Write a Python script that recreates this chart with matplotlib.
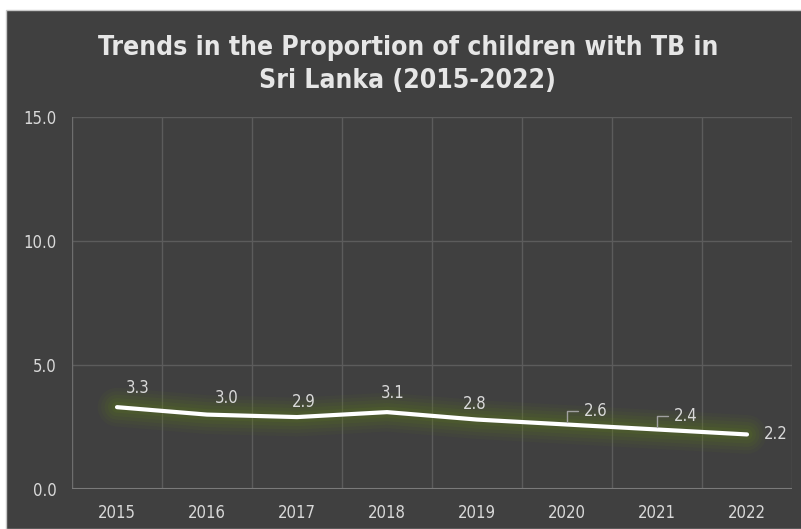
import matplotlib.pyplot as plt
from matplotlib.patches import Rectangle

# data
years = ['2015', '2016', '2017', '2018', '2019', '2020', '2021', '2022']
proportion = [3.3, 3.0, 2.9, 3.1, 2.8, 2.6, 2.4, 2.2]
yticks = [0.0, 5.0, 10.0, 15.0]

bg = '#404040'
txt = '#d9d9d9'
grid = '#5c5c5c'

fig = plt.figure(figsize=(8.01, 5.29), dpi=100, facecolor='white')
# dark chart panel with a thin white margin on the top and left
fig.patches.append(Rectangle((6 / 801, 0), 1, 519 / 529, transform=fig.transFigure,
                             facecolor=bg, edgecolor='#c8c8c8', linewidth=1, zorder=-10))

ax = fig.add_axes([72 / 801, 40 / 529, 720 / 801, 372 / 529])
ax.set_facecolor(bg)
ax.patch.set_alpha(0)

x = list(range(len(years)))
ax.set_xlim(-0.5, len(years) - 0.5)
ax.set_ylim(0, 15)

# vertical grid lines between categories, horizontal at major ticks
for b in range(1, len(years) + 1):
    ax.axvline(b - 0.5, color=grid, lw=1, zorder=1)
for t in yticks[1:]:
    ax.axhline(t, color=grid, lw=1, zorder=1)
ax.axvline(-0.5, color='#6e6e6e', lw=1, zorder=1)

for s in ax.spines.values():
    s.set_visible(False)
ax.axhline(0, color='#7a7a7a', lw=1.5, zorder=2)

# glow under the line
for lw, a in [(28, 0.07), (23, 0.08), (18, 0.10), (13, 0.12), (8, 0.15)]:
    ax.plot(x, proportion, color='#5e7c18', lw=lw, alpha=a,
            solid_capstyle='round', solid_joinstyle='round', zorder=3)
ax.plot(x, proportion, color='white', lw=3, solid_capstyle='round',
        solid_joinstyle='round', zorder=4)

# data labels (offsets in points)
offsets = [(15, 14), (14, 12), (5, 11), (4, 14), (-2, 11), (21, 10), (21, 10), (21, 0)]
for i, (v, (dx, dy)) in enumerate(zip(proportion, offsets)):
    ax.annotate(f'{v:.1f}', (i, v), xytext=(dx, dy), textcoords='offset points',
                ha='center', va='center', color=txt, fontsize=12,
                fontstretch='condensed', zorder=5)
    if i in (5, 6):
        # small leader line
        ax.annotate('', (i, v), xytext=(dx - 11, dy), textcoords='offset points',
                    arrowprops=dict(arrowstyle='-', color='#a0a0a0', lw=1,
                                    connectionstyle='angle,angleA=0,angleB=90,rad=0'),
                    zorder=5)

ax.set_xticks(x)
ax.set_xticklabels(years, fontstretch='condensed')
ax.set_yticks(yticks)
ax.set_yticklabels([f'{t:.1f}' for t in yticks], fontstretch='condensed')
ax.tick_params(colors=txt, labelsize=12, length=0)
ax.tick_params(axis='x', pad=11)
ax.tick_params(axis='y', pad=11)

fig.text(0.509, 0.879, 'Trends in the Proportion of children with TB in\nSri Lanka (2015-2022)',
         ha='center', va='center', color='#e6e6e6', fontsize=19, fontweight='bold',
         fontstretch='condensed', linespacing=1.35)

fig.savefig('out.png', dpi=100, facecolor=fig.get_facecolor())
